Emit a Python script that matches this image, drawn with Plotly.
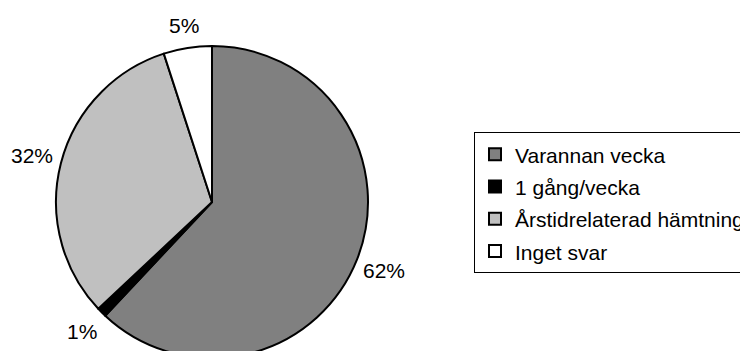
import math
import plotly.graph_objects as go

# Survey answers: how often collection takes place
categories = ["Varannan vecka", "1 gång/vecka", "Årstidrelaterad hämtning", "Inget svar"]
shares = [62, 1, 32, 5]
slice_colors = ["#808080", "#000000", "#c0c0c0", "#ffffff"]

W, H = 740, 404
FONT = "Liberation Sans, Arial, sans-serif"

# pie placement in pixels (the lower edge runs past the visible page)
cx, cy, r = 212, 202, 156
dom_x = [(cx - r) / W, (cx + r) / W]
dom_y = [1 - (cy + r) / H, 1 - (cy - r) / H]

fig = go.Figure(
    go.Pie(
        labels=[f'<span style="font-size:21px">{c}</span>' for c in categories],
        values=shares,
        sort=False,
        direction="clockwise",
        rotation=0,
        marker=dict(colors=slice_colors, line=dict(color="#000000", width=2)),
        textinfo="none",
        hoverinfo="label+percent",
        domain=dict(x=dom_x, y=dom_y),
        showlegend=True,
    )
)

# percentage labels placed outside each slice, at the slice mid-angle
total = sum(shares)
annotations = []
start = 0.0
for v in shares:
    mid = start + v / total * 360.0 / 2
    start += v / total * 360.0
    th = math.radians(mid)
    d = r * 1.14 + 8 * abs(math.sin(th))
    px = cx + d * math.sin(th)
    py = cy - d * math.cos(th)
    annotations.append(dict(
        x=px / W, y=1 - py / H, xref="paper", yref="paper",
        text=f"{v}%", showarrow=False, xanchor="center", yanchor="middle",
        font=dict(family=FONT, size=21, color="#000000"),
    ))

fig.update_layout(
    width=W,
    height=H,
    margin=dict(l=0, r=0, t=0, b=0, autoexpand=False),
    paper_bgcolor="#ffffff",
    plot_bgcolor="#ffffff",
    font=dict(family=FONT, size=21, color="#000000"),
    annotations=annotations,
    legend=dict(
        x=474 / W, y=1 - 132 / H, xanchor="left", yanchor="top",
        bgcolor="#ffffff", bordercolor="#000000", borderwidth=1,
        font=dict(family=FONT, size=22.5, color="#000000"),
        traceorder="normal",
    ),
)

fig.write_html(
    "out.html",
    post_script="document.body.style.overflow='hidden';document.documentElement.style.overflow='hidden';",
)
